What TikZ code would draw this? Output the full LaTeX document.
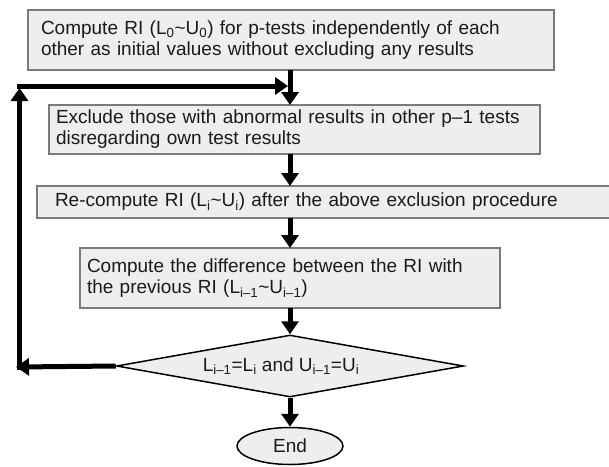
\documentclass[tikz,border=0pt]{standalone}
\usepackage{fontspec}
\setmainfont{Liberation Sans}
\usetikzlibrary{shapes.geometric,arrows.meta}
\definecolor{boxgray}{HTML}{7A7A7A}
\definecolor{boxfill}{HTML}{EEEEEE}
\definecolor{txt}{HTML}{1A1A1A}
\newcommand{\fs}{\fontsize{19}{21}\selectfont}
\newcommand{\sub}[1]{\textsubscript{#1}}
\newcommand{\tld}{\textasciitilde}
\begin{document}
\begin{tikzpicture}[x=1pt,y=-1pt,
  procbox/.style={draw=boxgray, line width=1.5pt, fill=boxfill, rectangle,
    anchor=north west, align=left, font=\fs, text=txt, inner ysep=0pt, outer sep=0pt},
  bigarrow/.style={line width=5pt, -{Triangle[width=17pt,length=13pt]}},
]
\useasboundingbox (0,0) rectangle (609,466);
\clip (0,0) rectangle (609,466);

\node[procbox, minimum width=526pt, minimum height=60pt, inner xsep=13pt, text width=500pt] (b1) at (28,10)
  {Compute RI (L\sub{0}\tld U\sub{0}) for p-tests independently of each\\other as initial values without excluding any results};
\node[procbox, minimum width=491pt, minimum height=49pt, inner xsep=7pt, text width=477pt] (b2) at (49,105)
  {Exclude those with abnormal results in other p–1 tests\\disregarding own test results};
\node[procbox, minimum width=580pt, minimum height=32pt, inner xsep=18pt, text width=544pt] (b3) at (37,186)
  {Re-compute RI (L\sub{i}\tld U\sub{i}) after the above exclusion procedure};
\node[procbox, minimum width=420pt, minimum height=60pt, inner xsep=7pt, text width=406pt] (b4) at (80,248)
  {Compute the difference between the RI with\\the previous RI (L\sub{i–1}\tld U\sub{i–1})};
\node[diamond, draw=black, line width=1.5pt, fill=boxfill, shape aspect=5.6, inner sep=0pt,
  minimum width=347pt, minimum height=62pt, font=\fs, text=txt] (dia) at (290,366)
  {L\sub{i–1}=L\sub{i} and U\sub{i–1}=U\sub{i}\hspace*{18pt}};
\node[ellipse, draw=black, line width=1.5pt, fill=boxfill, inner sep=0pt,
  minimum width=106pt, minimum height=37pt, font=\fs, text=txt] (end) at (290,446) {End};

\coordinate (lb) at (16,367);
\coordinate (vb) at (19.5,369.5);
\coordinate (vt) at (19.5,88);
\coordinate (hl) at (17,86);
\coordinate (hr) at (288,86);

\draw[bigarrow] (b1.south -| dia.north) -- (b2.north -| dia.north);
\draw[bigarrow] (b2.south -| dia.north) -- (b3.north -| dia.north);
\draw[bigarrow] (b3.south -| dia.north) -- (b4.north -| dia.north);
\draw[bigarrow] (b4.south -| dia.north) -- (dia.north);
\draw[bigarrow] (dia.south) -- (end.north);
\draw[bigarrow] (dia.west) -- (lb);
\draw[bigarrow] (vb) -- (vt);
\draw[bigarrow] (hl) -- (hr);
\end{tikzpicture}
\end{document}
